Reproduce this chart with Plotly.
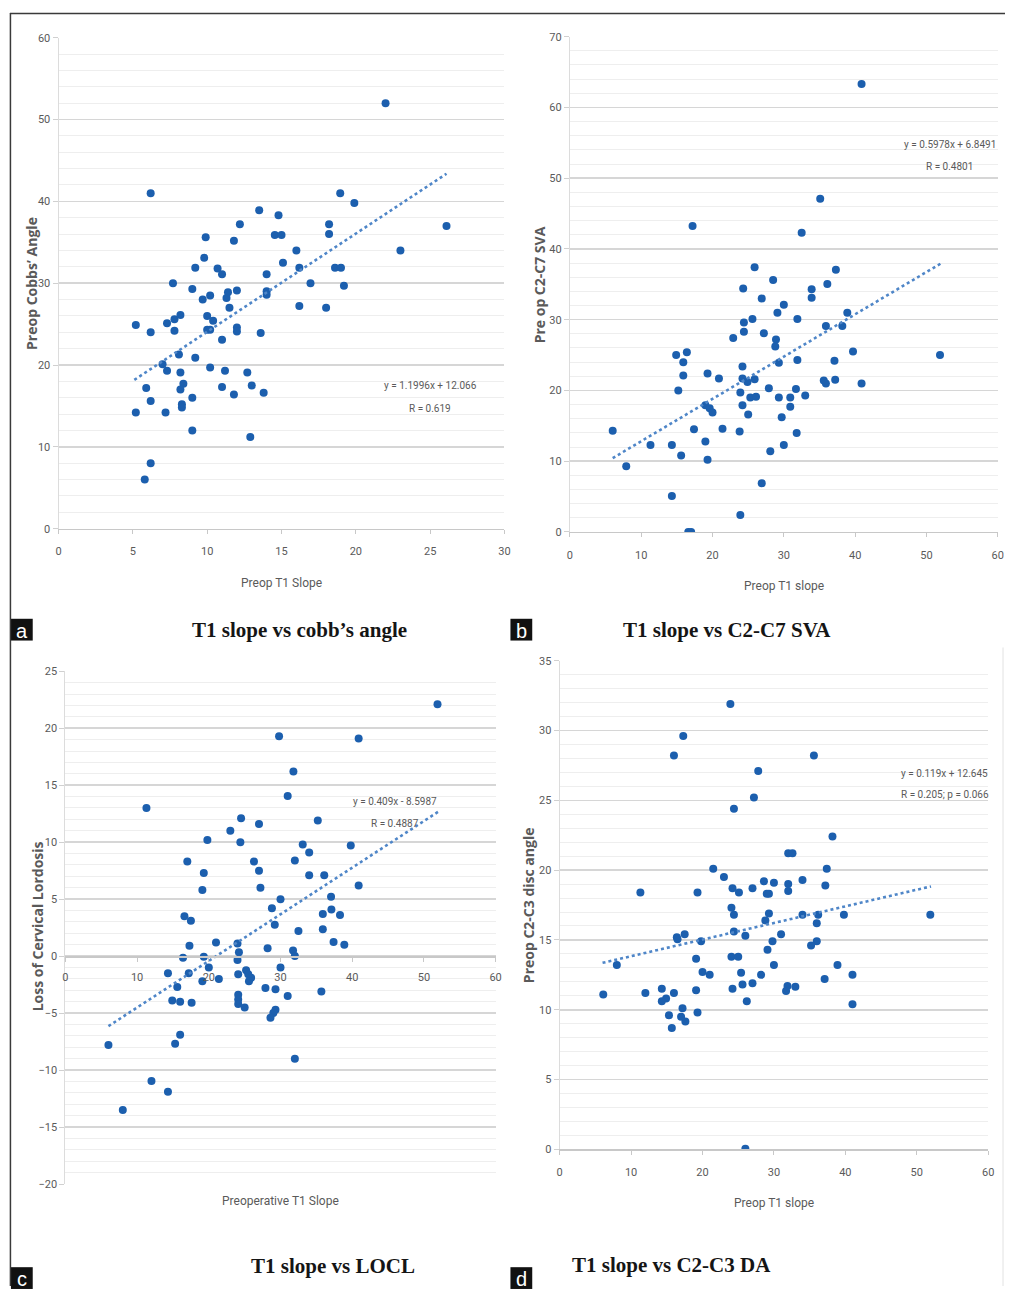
import numpy as np
import plotly.graph_objects as go

W, H = 1011, 1293

# ---------------- data ----------------
a_x = [22.0, 6.2, 18.95, 19.9, 13.5, 14.8, 12.2, 18.2, 18.2, 26.1, 9.9, 14.55, 15.0, 11.8, 16.0, 23.0,
       9.8, 15.1, 9.2, 10.7, 11.0, 16.2, 18.6, 19.0, 14.0, 19.2, 7.7, 16.95, 9.0, 14.0, 14.0, 12.0,
       11.4, 11.3, 10.2, 9.7, 11.5, 16.2, 18.0, 5.2, 6.2, 7.3, 7.8, 7.8, 8.2, 10.0, 10.4, 10.0, 10.2,
       11.0, 12.0, 12.0, 13.6, 8.1, 9.2, 7.0, 7.3, 8.2, 10.2, 11.2, 12.7, 5.9, 8.4, 8.2, 11.0, 13.0,
       11.8, 13.8, 9.0, 6.2, 8.3, 8.3, 5.2, 7.2, 9.0, 12.9, 6.2, 5.8]
a_y = [52.0, 41.0, 41.0, 39.8, 38.9, 38.3, 37.2, 37.2, 36.0, 37.0, 35.6, 35.9, 35.9, 35.2, 34.0, 34.0,
       33.1, 32.5, 31.9, 31.8, 31.1, 31.9, 31.9, 31.9, 31.1, 29.7, 30.0, 30.0, 29.3, 29.0, 28.6, 29.1,
       28.9, 28.2, 28.5, 28.0, 27.0, 27.2, 27.0, 24.9, 24.0, 25.1, 25.6, 24.2, 26.1, 26.0, 25.4, 24.3, 24.3,
       23.1, 24.6, 24.1, 23.9, 21.3, 20.9, 20.1, 19.3, 19.1, 19.7, 19.3, 19.1, 17.2, 17.7, 17.0, 17.3, 17.5,
       16.4, 16.6, 16.0, 15.6, 15.2, 14.8, 14.2, 14.2, 12.0, 11.2, 8.0, 6.0]

b_x = [40.9, 17.2, 35.1, 32.5, 25.9, 37.3, 28.5, 24.3, 36.1, 33.9, 33.9, 26.9, 30.0, 29.1, 38.9, 25.6,
       31.9, 24.4, 35.9, 38.2, 22.9, 24.4, 27.2, 28.9, 28.8, 14.9, 16.4, 39.7, 51.9, 15.9, 29.3, 31.9,
       37.1, 24.2, 19.3, 15.9, 20.9, 24.2, 24.9, 25.9, 35.6, 35.9, 37.2, 40.9, 15.2, 23.9, 27.9, 31.7,
       25.3, 26.1, 29.3, 30.9, 33.0, 19.0, 24.2, 19.6, 20.0, 30.9, 25.0, 29.7, 17.4, 21.4, 23.8, 31.8,
       6.0, 19.0, 11.3, 14.3, 30.0, 28.1, 15.6, 19.3, 7.9, 26.9, 14.3, 23.9, 16.6, 17.0]
b_y = [63.3, 43.25, 47.1, 42.3, 37.4, 37.05, 35.6, 34.4, 35.05, 34.3, 33.1, 33.0, 32.1, 31.0, 31.0, 30.1,
       30.1, 29.6, 29.1, 29.1, 27.4, 28.3, 28.1, 27.2, 26.2, 25.0, 25.4, 25.5, 25.0, 24.0, 23.9, 24.3,
       24.2, 23.4, 22.4, 22.1, 21.7, 21.7, 21.2, 21.6, 21.4, 21.0, 21.5, 21.0, 20.0, 19.7, 20.3, 20.2,
       19.0, 19.1, 19.0, 19.0, 19.3, 17.9, 17.9, 17.5, 16.9, 17.7, 16.6, 16.2, 14.5, 14.6, 14.2, 14.0,
       14.3, 12.8, 12.3, 12.3, 12.3, 11.4, 10.8, 10.2, 9.3, 6.9, 5.1, 2.4, 0.0, 0.0]

c_x = [51.9, 29.8, 40.9, 31.8, 31.0, 11.3, 24.5, 35.2, 27.0, 23.0, 19.8, 24.4, 33.1, 39.8, 34.0, 17.0,
       26.3, 32.0, 27.0, 19.3, 34.0, 36.1, 27.2, 19.1, 40.9, 30.0, 37.05, 28.8, 35.9, 37.1, 38.3, 16.6,
       17.5, 29.2, 35.9, 32.5, 21.0, 17.3, 24.0, 37.4, 38.9, 28.2, 24.2, 31.75, 32.0, 19.3, 16.4,
       24.0, 20.0, 30.0, 14.3, 17.2, 24.1, 25.2, 25.5, 25.9, 25.6, 21.4, 19.1, 15.6, 27.9, 29.3, 35.7,
       31.0, 24.1, 24.1, 24.1, 14.9, 16.0, 17.6, 25.0, 29.3, 29.0, 28.6, 16.0, 15.3, 6.0, 32.0, 12.0,
       14.3, 8.0]
c_y = [22.1, 19.3, 19.1, 16.2, 14.05, 13.0, 12.1, 11.9, 11.6, 11.0, 10.2, 10.0, 9.8, 9.7, 9.1, 8.3,
       8.3, 8.4, 7.5, 7.3, 7.1, 7.1, 6.0, 5.8, 6.2, 5.0, 5.2, 4.2, 3.7, 4.1, 3.6, 3.5,
       3.1, 2.75, 2.35, 2.2, 1.2, 0.9, 1.1, 1.25, 1.0, 0.7, 0.35, 0.5, 0.0, -0.05, -0.15,
       -0.35, -1.0, -1.0, -1.5, -1.5, -1.6, -1.25, -1.6, -1.9, -2.2, -2.0, -2.2, -2.7, -2.8, -2.9, -3.1,
       -3.5, -3.4, -3.8, -4.2, -3.9, -4.0, -4.1, -4.5, -4.7, -5.0, -5.4, -6.9, -7.7, -7.8, -9.0, -10.95,
       -11.9, -13.5]

d_x = [23.9, 17.3, 16.0, 35.6, 27.8, 27.2, 24.4, 38.2, 32.0, 32.6, 21.5, 37.4, 23.0, 28.6, 30.0, 34.0,
       32.0, 32.0, 37.2, 11.3, 19.3, 24.2, 25.1, 27.0, 29.0, 29.3, 24.05, 24.4, 29.3, 34.0, 36.2, 36.0,
       39.8, 51.9, 28.8, 24.4, 17.5, 16.4, 16.5, 26.0, 31.0, 19.8, 29.8, 36.0, 35.2, 29.1, 19.1, 24.05,
       25.0, 8.0, 30.0, 38.9, 20.0, 21.0, 25.4, 28.2, 41.0, 37.1, 27.0, 25.6, 31.9, 31.7, 33.0, 24.2,
       14.3, 19.1, 12.0, 16.0, 6.1, 14.9, 14.3, 26.2, 41.0, 17.2, 19.3, 15.3, 17.0, 17.6, 15.7, 26.0]
d_y = [31.9, 29.6, 28.2, 28.2, 27.1, 25.2, 24.4, 22.4, 21.2, 21.2, 20.1, 20.1, 19.5, 19.2, 19.1, 19.3,
       19.0, 18.5, 18.9, 18.4, 18.4, 18.7, 18.4, 18.7, 18.3, 18.3, 17.3, 16.8, 16.9, 16.8, 16.8, 16.2,
       16.8, 16.8, 16.4, 15.6, 15.4, 15.2, 15.05, 15.3, 15.4, 14.9, 14.9, 14.9, 14.6, 14.3, 13.65, 13.8,
       13.8, 13.2, 13.2, 13.2, 12.7, 12.5, 12.65, 12.5, 12.5, 12.2, 11.9, 11.8, 11.7, 11.35, 11.65, 11.5,
       11.5, 11.4, 11.2, 11.2, 11.1, 10.8, 10.6, 10.6, 10.4, 10.1, 9.8, 9.6, 9.5, 9.15, 8.7, 0.05]

# trendline equations (slope, intercept) and x extents
fits = {
    "a": (1.1996, 12.066, 5.1, 26.1),
    "b": (0.5978, 6.8491, 6.0, 52.0),
    "c": (0.409, -8.5987, 6.0, 52.0),
    "d": (0.119, 12.645, 6.0, 52.0),
}
eq_text = {
    "a": ["y = 1.1996x + 12.066", "R = 0.619"],
    "b": ["y = 0.5978x + 6.8491", "R = 0.4801"],
    "c": ["y = 0.409x - 8.5987", "R = 0.4887"],
    "d": ["y = 0.119x + 12.645", "R = 0.205; p = 0.066"],
}
titles = {
    "a": "T1 slope vs cobb\u2019s angle",
    "b": "T1 slope vs C2-C7 SVA",
    "c": "T1 slope vs LOCL",
    "d": "T1 slope vs C2-C3 DA",
}
x_titles = {"a": "Preop T1 Slope", "b": "Preop T1 slope", "c": "Preoperative T1 Slope", "d": "Preop T1 slope"}
y_titles = {"a": "Preop Cobbs\u2019 Angle", "b": "Pre op C2-C7 SVA", "c": "Loss of Cervical Lordosis",
            "d": "Preop C2-C3 disc angle"}

# ---------------- layout geometry (pixels) ----------------
panels = {
    "a": dict(px=(56, 506), py=(32, 528), xr=(0, 30), xd=5, yr=(0, 60), yd=10, ym=2),
    "b": dict(px=(572, 1003.7), py=(31, 531.3), xr=(0, 60), xd=10, yr=(0, 70), yd=10, ym=2),
    "c": dict(px=(63, 497), py=(672, 1190), xr=(0, 60), xd=10, yr=(-20, 25), yd=5, ym=1),
    "d": dict(px=(561.7, 994), py=(661.3, 1155), xr=(0, 60), xd=10, yr=(0, 35), yd=5, ym=1),
}
data = {"a": (a_x, a_y), "b": (b_x, b_y), "c": (c_x, c_y), "d": (d_x, d_y)}

NARROW = "Liberation Sans Narrow, Roboto, sans-serif"
GRAY = "#5a5a5a"
DOT = "#1c5fae"
TREND = "#4f86c8"

fig = go.Figure()
layout = dict(width=W, height=H, margin=dict(l=0, r=0, t=0, b=0), autosize=False,
              paper_bgcolor="white", plot_bgcolor="white", showlegend=False)

annotations = []
shapes = []

for i, key in enumerate(["a", "b", "c", "d"], start=1):
    p = panels[key]
    sfx = "" if i == 1 else str(i)
    xa, ya = "x" + sfx, "y" + sfx
    xdom = [p["px"][0] / W, p["px"][1] / W]
    ydom = [1 - p["py"][1] / H, 1 - p["py"][0] / H]
    xs, ys = data[key]
    fig.add_trace(go.Scatter(x=xs, y=ys, mode="markers", xaxis=xa, yaxis=ya,
                             marker=dict(color=DOT, size=8, line=dict(width=0))))
    m, c0, x0, x1 = fits[key]
    tx = np.array([x0, x1])
    fig.add_trace(go.Scatter(x=tx, y=m * tx + c0, mode="lines", xaxis=xa, yaxis=ya,
                             line=dict(color=TREND, width=2.6, dash="dot")))
    xaxis = dict(domain=xdom, range=list(p["xr"]), dtick=p["xd"], tick0=0, showgrid=False,
                 zeroline=False, showline=True, linecolor="#c8c8c8", linewidth=1.5,
                 ticks="outside", ticklen=4, tickcolor="#c8c8c8", ticklabelstandoff=8,
                 tickfont=dict(family=NARROW, size=11, color=GRAY), fixedrange=True)
    if key == "c":
        frac0 = (0 - p["yr"][0]) / (p["yr"][1] - p["yr"][0])
        xaxis.update(anchor="free", position=ydom[0] + frac0 * (ydom[1] - ydom[0]), ticklabelstandoff=6)
    else:
        xaxis.update(anchor=ya)
    yaxis = dict(domain=ydom, range=list(p["yr"]), dtick=p["yd"], tick0=0, anchor=xa,
                 showgrid=True, gridcolor="#d6d6d6", gridwidth=1.5, zeroline=False,
                 showline=True, linecolor="#dcdcdc", linewidth=1,
                 ticks="outside", ticklen=5, tickcolor="#d0d0d0",
                 tickfont=dict(family=NARROW, size=11, color=GRAY),
                 minor=dict(dtick=p["ym"], showgrid=True, gridcolor="#eeeeee", gridwidth=1, ticks=""),
                 fixedrange=True)
    layout["xaxis" + sfx] = xaxis
    layout["yaxis" + sfx] = yaxis

# equation annotations (data coordinates)
eq_pos = {"a": (25.0, 17.5, 14.7, "x", "y"), "b": (53.3, 54.7, 51.6, "x2", "y2"),
          "c": (46.0, 13.6, 11.6, "x3", "y3"), "d": (53.9, 26.95, 25.4, "x4", "y4")}
for key, (ex, ey1, ey2, xr, yr) in eq_pos.items():
    for txt, ey in zip(eq_text[key], (ey1, ey2)):
        annotations.append(dict(x=ex, y=ey, xref=xr, yref=yr, text=txt, showarrow=False,
                                xanchor="center", yanchor="middle",
                                font=dict(family=NARROW, size=10, color=GRAY)))

# axis titles (paper positions)
xt_pos = {"a": (281, 583), "b": (788, 586), "c": (280, 1207), "d": (778, 1209)}
yt_pos = {"a": (28, 280), "b": (541, 282), "c": (35, 930), "d": (531, 908)}
for key in "abcd":
    x, y = xt_pos[key]
    annotations.append(dict(x=x / W, y=1 - y / H, xref="paper", yref="paper", text=x_titles[key],
                            showarrow=False, xanchor="center", yanchor="middle",
                            font=dict(family=NARROW, size=12, color=GRAY)))
    x, y = yt_pos[key]
    annotations.append(dict(x=x / W, y=1 - y / H, xref="paper", yref="paper", text="<b>" + y_titles[key] + "</b>",
                            showarrow=False, textangle=-90, xanchor="center", yanchor="middle",
                            font=dict(family="Open Sans", size=14, color=GRAY)))

# panel titles
tt_pos = {"a": (299, 630), "b": (731, 630), "c": (333, 1273), "d": (675, 1272)}
for key in "abcd":
    x, y = tt_pos[key]
    annotations.append(dict(x=x / W, y=1 - y / H, xref="paper", yref="paper", text="<b>" + titles[key] + "</b>",
                            showarrow=False, xanchor="center", yanchor="middle",
                            font=dict(family="Liberation Serif", size=21, color="#151515")))

# letter boxes
lab_pos = {"a": (8, 30, 619, 641), "b": (512, 534, 619, 641), "c": (8, 30, 1274, 1296), "d": (512, 534, 1274, 1296)}
for key, (x0, x1, y0, y1) in lab_pos.items():
    shapes.append(dict(type="rect", xref="paper", yref="paper", x0=x0 / W, x1=x1 / W,
                       y0=1 - y1 / H, y1=1 - y0 / H, fillcolor="#111111", line=dict(width=0)))
    annotations.append(dict(x=(x0 + x1) / 2 / W, y=1 - ((y0 + y1) / 2 + 1) / H, xref="paper", yref="paper",
                            text=key, showarrow=False, xanchor="center", yanchor="middle",
                            font=dict(family="Liberation Sans", size=20, color="white")))

# outer frame lines
shapes.append(dict(type="line", xref="paper", yref="paper", x0=7 / W, x1=1, y0=1 - 7.5 / H, y1=1 - 7.5 / H,
                   line=dict(color="#3a3a3a", width=1.5)))
shapes.append(dict(type="line", xref="paper", yref="paper", x0=7.5 / W, x1=7.5 / W, y0=0, y1=1 - 7 / H,
                   line=dict(color="#3a3a3a", width=1.5)))
shapes.append(dict(type="line", xref="paper", yref="paper", x0=1009 / W, x1=1009 / W, y0=0, y1=1 - 648 / H,
                   line=dict(color="#e2e2e2", width=1)))

layout["annotations"] = annotations
layout["shapes"] = shapes
fig.update_layout(**layout)
fig.write_html("out.html", config={"displayModeBar": False, "staticPlot": True},
               post_script="document.body.style.margin='0';document.body.style.padding='0';"
                           "document.body.style.overflow='hidden';")
